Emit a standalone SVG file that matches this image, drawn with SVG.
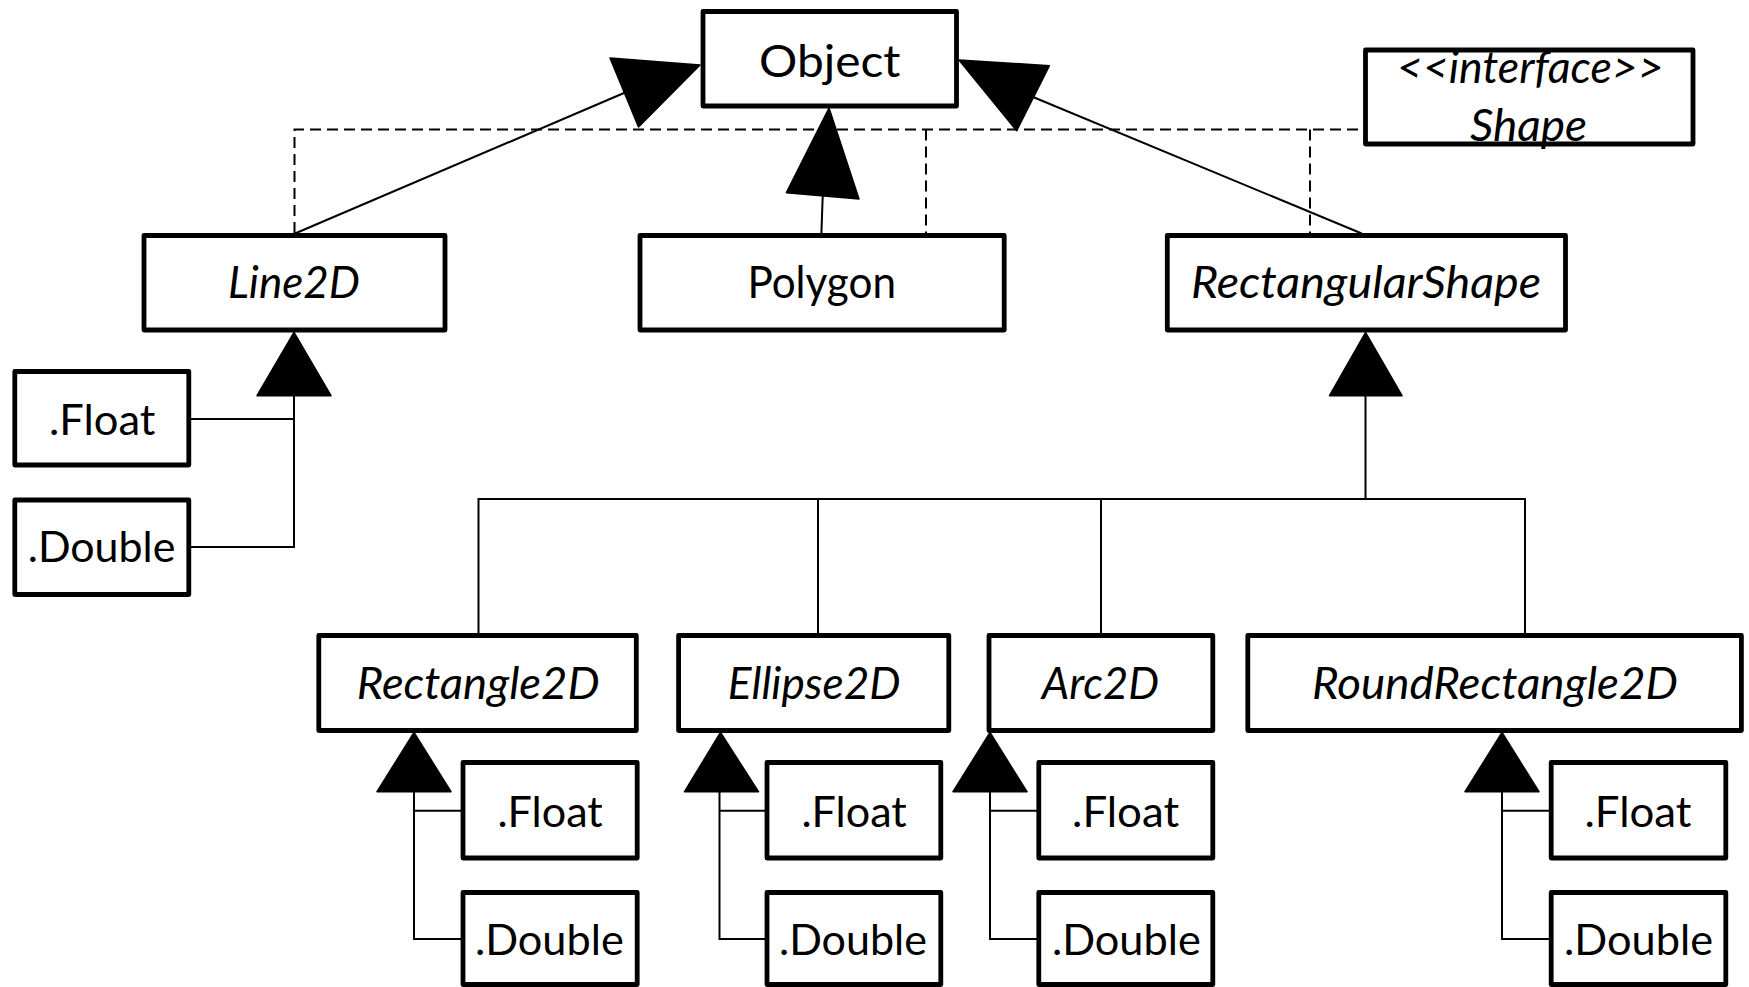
<svg xmlns="http://www.w3.org/2000/svg" width="1749" height="987" viewBox="0 0 1749 987">
  <style>
    .box { fill: #ffffff; stroke: #000000; stroke-width: 4.8; stroke-linejoin: round; }
    .lbl { font-family: Lato, "Liberation Sans", Arial, sans-serif; font-size: 44px; fill: #000000; text-anchor: middle; }
    .sub { font-size: 43px; }
    .it { font-style: italic; }
    .edge { fill: none; stroke: #000000; stroke-width: 2; }
    .dash { fill: none; stroke: #000000; stroke-width: 2; stroke-dasharray: 11 6; }
    .head { fill: #000000; stroke: #000000; stroke-width: 1.5; stroke-linejoin: round; }
  </style>

  <!-- connectors: generalisation (solid, filled heads) and realisation (dashed) -->
  <g id="connectors">
    <!-- realisation of the Shape interface -->
    <polyline class="dash" points="294.5,233 294.5,129.5 1363,129.5"/>
    <line class="dash" x1="926" y1="129.5" x2="926" y2="233"/>
    <line class="dash" x1="1310" y1="129.5" x2="1310" y2="233"/>

    <!-- Line2D -> Object -->
    <line class="edge" x1="295" y1="233.5" x2="624" y2="93"/>
    <polygon class="head" points="610,58 638.5,127 700,65"/>
    <!-- Polygon -> Object -->
    <line class="edge" x1="821.4" y1="233.5" x2="822.7" y2="196"/>
    <polygon class="head" points="786.4,192.7 859,199 829,108"/>
    <!-- RectangularShape -> Object -->
    <line class="edge" x1="1361.7" y1="233.5" x2="1033" y2="97"/>
    <polygon class="head" points="1049.4,65.7 1016.7,130.7 959,60"/>

    <!-- Line2D.Float / Line2D.Double -> Line2D -->
    <polyline class="edge" points="191,419 294,419"/>
    <polyline class="edge" points="191,547 294,547 294,395"/>
    <polygon class="head" points="294,332.5 257,395.7 331,395.7"/>

    <!-- RectangularShape subclasses -->
    <line class="edge" x1="1365.5" y1="395" x2="1365.5" y2="499"/>
    <polygon class="head" points="1365.5,332.5 1329.5,395.7 1402,395.7"/>
    <line class="edge" x1="478" y1="499" x2="1525" y2="499"/>
    <line class="edge" x1="478.5" y1="498" x2="478.5" y2="634"/>
    <line class="edge" x1="818" y1="499" x2="818" y2="634"/>
    <line class="edge" x1="1101" y1="499" x2="1101" y2="634"/>
    <line class="edge" x1="1525" y1="498" x2="1525" y2="634"/>

    <!-- Rectangle2D.Float / .Double -->
    <polyline class="edge" points="461,810.7 414,810.7"/>
    <polyline class="edge" points="461,939 414,939 414,791"/>
    <polygon class="head" points="414,732.5 377,791.7 451,791.7"/>

    <!-- Ellipse2D.Float / .Double -->
    <polyline class="edge" points="766,810.7 719.5,810.7"/>
    <polyline class="edge" points="766,939 719.5,939 719.5,791"/>
    <polygon class="head" points="720.5,732.5 684.5,791.7 758.5,791.7"/>

    <!-- Arc2D.Float / .Double -->
    <polyline class="edge" points="1037,810.7 990,810.7"/>
    <polyline class="edge" points="1037,939 990,939 990,791"/>
    <polygon class="head" points="990,732.5 953,791.7 1027,791.7"/>

    <!-- RoundRectangle2D.Float / .Double -->
    <polyline class="edge" points="1549,810.7 1502,810.7"/>
    <polyline class="edge" points="1549,939 1502,939 1502,791"/>
    <polygon class="head" points="1502,732.5 1465,791.7 1539,791.7"/>
  </g>

  <g id="object">
    <rect class="box" x="703" y="11.5" width="253.5" height="94.5"/>
    <text class="lbl" x="829.8" y="77.3" textLength="141.5" lengthAdjust="spacingAndGlyphs">Object</text>
  </g>

  <g id="shape">
    <rect class="box" x="1365.5" y="50" width="327.5" height="94"/>
    <text class="lbl it" x="1530.3" y="83" textLength="266.6" lengthAdjust="spacingAndGlyphs">&lt;&lt;interface&gt;&gt;</text>
    <text class="lbl it" x="1528.5" y="141" textLength="117" lengthAdjust="spacingAndGlyphs">Shape</text>
  </g>

  <g id="line2d">
    <rect class="box" x="144" y="235.5" width="301" height="94.5"/>
    <text class="lbl it" x="294" y="298.3" textLength="132" lengthAdjust="spacingAndGlyphs">Line2D</text>
  </g>

  <g id="polygon">
    <rect class="box" x="640" y="235.5" width="364.2" height="94.5"/>
    <text class="lbl" x="821.7" y="298.3" textLength="148.6" lengthAdjust="spacingAndGlyphs">Polygon</text>
  </g>

  <g id="rectangularshape">
    <rect class="box" x="1167.3" y="235.5" width="398.2" height="94.5"/>
    <text class="lbl it" x="1366" y="298.3" textLength="350" lengthAdjust="spacingAndGlyphs">RectangularShape</text>
  </g>

  <g id="line2d-float">
    <rect class="box" x="14.8" y="371.5" width="174" height="93.5"/>
    <text class="lbl sub" x="102.2" y="435" textLength="106.4" lengthAdjust="spacingAndGlyphs">.Float</text>
  </g>

  <g id="line2d-double">
    <rect class="box" x="14.8" y="500" width="174" height="94.5"/>
    <text class="lbl sub" x="101.6" y="562.3" textLength="147.7" lengthAdjust="spacingAndGlyphs">.Double</text>
  </g>

  <g id="rectangle2d">
    <rect class="box" x="318.8" y="635.5" width="317.5" height="95"/>
    <text class="lbl it" x="478.2" y="699" textLength="242.8" lengthAdjust="spacingAndGlyphs">Rectangle2D</text>
  </g>

  <g id="rectangle2d-float">
    <rect class="box" x="463" y="762.5" width="174.2" height="95.5"/>
    <text class="lbl sub" x="550.1" y="826.7" textLength="105.4" lengthAdjust="spacingAndGlyphs">.Float</text>
  </g>

  <g id="rectangle2d-double">
    <rect class="box" x="463" y="892.5" width="174.2" height="92"/>
    <text class="lbl sub" x="549.4" y="955" textLength="148.8" lengthAdjust="spacingAndGlyphs">.Double</text>
  </g>

  <g id="ellipse2d">
    <rect class="box" x="678.6" y="635.5" width="270.2" height="95"/>
    <text class="lbl it" x="814.2" y="699" textLength="172.7" lengthAdjust="spacingAndGlyphs">Ellipse2D</text>
  </g>

  <g id="ellipse2d-float">
    <rect class="box" x="767" y="762.5" width="173.8" height="95.5"/>
    <text class="lbl sub" x="854.1" y="826.7" textLength="105.4" lengthAdjust="spacingAndGlyphs">.Float</text>
  </g>

  <g id="ellipse2d-double">
    <rect class="box" x="767" y="892.5" width="173.8" height="92"/>
    <text class="lbl sub" x="853" y="955" textLength="148" lengthAdjust="spacingAndGlyphs">.Double</text>
  </g>

  <g id="arc2d">
    <rect class="box" x="989" y="635.5" width="223.8" height="95"/>
    <text class="lbl it" x="1100.4" y="699" textLength="117.3" lengthAdjust="spacingAndGlyphs">Arc2D</text>
  </g>

  <g id="arc2d-float">
    <rect class="box" x="1038.8" y="762.5" width="174" height="95.5"/>
    <text class="lbl sub" x="1125.6" y="826.7" textLength="107" lengthAdjust="spacingAndGlyphs">.Float</text>
  </g>

  <g id="arc2d-double">
    <rect class="box" x="1038.8" y="892.5" width="174" height="92"/>
    <text class="lbl sub" x="1126.4" y="955" textLength="148.8" lengthAdjust="spacingAndGlyphs">.Double</text>
  </g>

  <g id="roundrectangle2d">
    <rect class="box" x="1247.8" y="635.5" width="493.6" height="95"/>
    <text class="lbl it" x="1494.9" y="699" textLength="366" lengthAdjust="spacingAndGlyphs">RoundRectangle2D</text>
  </g>

  <g id="roundrectangle2d-float">
    <rect class="box" x="1551.2" y="762.5" width="174.6" height="95.5"/>
    <text class="lbl sub" x="1638" y="826.7" textLength="107" lengthAdjust="spacingAndGlyphs">.Float</text>
  </g>

  <g id="roundrectangle2d-double">
    <rect class="box" x="1551.2" y="892.5" width="174.6" height="92"/>
    <text class="lbl sub" x="1638.6" y="955" textLength="149" lengthAdjust="spacingAndGlyphs">.Double</text>
  </g>
</svg>
